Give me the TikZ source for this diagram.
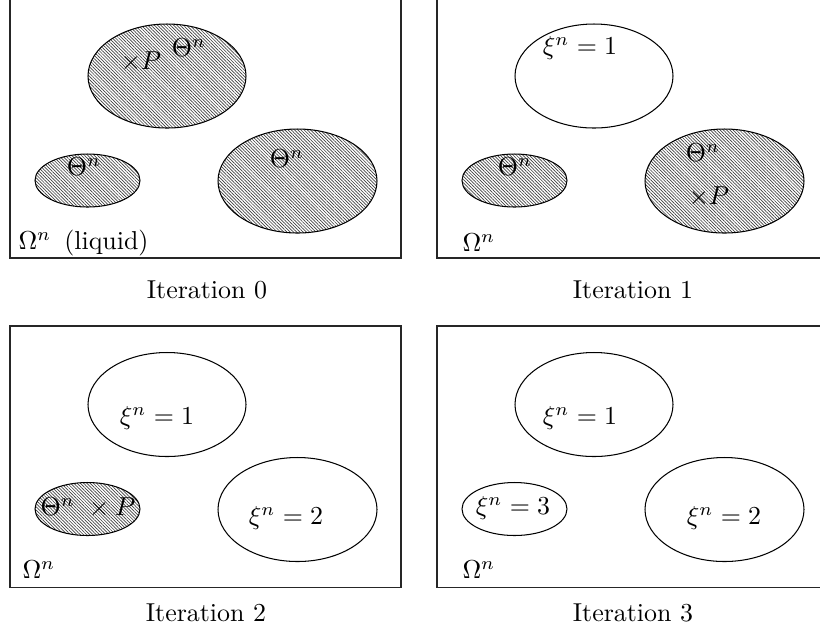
\documentclass[tikz,border=0pt]{standalone}
\usetikzlibrary{patterns.meta}
\begin{document}
\begin{tikzpicture}[x=0.386pt,y=-0.386pt,
  frame/.style={draw=black!85,line width=0.4pt},
  hatched/.style={draw=black,line width=0.4pt,fill=white,pattern={Lines[angle=-45,distance=0.88pt,line width=0.26pt]},pattern color=black!75},
  plain/.style={draw=black,line width=0.4pt},
  lbl/.style={inner sep=0pt,font=\fontsize{10}{12}\selectfont}]
\useasboundingbox (0,0) rectangle (820,635);
\clip (0,0) rectangle (820,635);
% ---------- Iteration 0
\draw[frame] (10,-2.5) rectangle (401,258);
\filldraw[hatched] (167,76) ellipse [x radius=79,y radius=52];
\filldraw[hatched] (87.5,180.5) ellipse [x radius=52.5,y radius=26.5];
\filldraw[hatched] (297.5,181) ellipse [x radius=79.5,y radius=52];
\node[lbl] (p0) at (141,62) {$\times P$};
\node[lbl] (t0a) at (189,48) {$\Theta^n$};
\node[lbl] (t0b) at (84,167) {$\Theta^n$};
\node[lbl] (t0c) at (287,159) {$\Theta^n$};
\node[lbl,anchor=west] (o0) at (18,243) {$\Omega^n$~\,(liquid)};
\node[lbl] (i0) at (207,290) {Iteration 0};
% ---------- Iteration 1
\draw[frame] (437,-2.5) rectangle (828,258);
\draw[plain] (594,76) ellipse [x radius=79,y radius=52];
\filldraw[hatched] (514.5,180.5) ellipse [x radius=52.5,y radius=26.5];
\filldraw[hatched] (724.5,181) ellipse [x radius=79.5,y radius=52];
\node[lbl] (x1a) at (580,48) {$\xi^n=1$};
\node[lbl] (t1b) at (515,167) {$\Theta^n$};
\node[lbl] (t1c) at (703,153) {$\Theta^n$};
\node[lbl] (p1) at (709,197) {$\times P$};
\node[lbl,anchor=west] (o1) at (462,243) {$\Omega^n$};
\node[lbl] (i1) at (633,290) {Iteration 1};
% ---------- Iteration 2
\draw[frame] (10,326) rectangle (401,587);
\draw[plain] (167,404.5) ellipse [x radius=79,y radius=52];
\filldraw[hatched] (87.5,509) ellipse [x radius=52.5,y radius=26.5];
\draw[plain] (297.5,509.5) ellipse [x radius=79.5,y radius=52];
\node[lbl] (x2a) at (157,418) {$\xi^n=1$};
\node[lbl] (t2b) at (88,508) {$\Theta^n\ \times P$};
\node[lbl] (x2c) at (286,518) {$\xi^n=2$};
\node[lbl,anchor=west] (o2) at (22,570) {$\Omega^n$};
\node[lbl] (i2) at (206,613) {Iteration 2};
% ---------- Iteration 3
\draw[frame] (437,326) rectangle (828,587);
\draw[plain] (594,404.5) ellipse [x radius=79,y radius=52];
\draw[plain] (514.5,509) ellipse [x radius=52.5,y radius=26.5];
\draw[plain] (724.5,509.5) ellipse [x radius=79.5,y radius=52];
\node[lbl] (x3a) at (580,418) {$\xi^n=1$};
\node[lbl] (x3b) at (513,508) {$\xi^n=3$};
\node[lbl] (x3c) at (724,518) {$\xi^n=2$};
\node[lbl,anchor=west] (o3) at (462,570) {$\Omega^n$};
\node[lbl] (i3) at (633,613) {Iteration 3};
\end{tikzpicture}
\end{document}
